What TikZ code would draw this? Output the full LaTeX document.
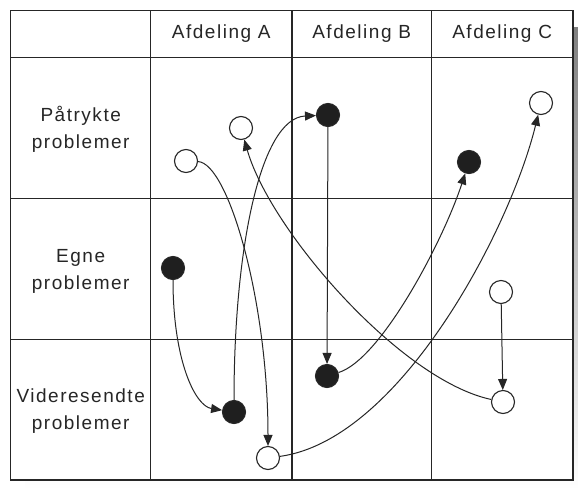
\documentclass[tikz,border=0pt]{standalone}
\usepackage{fontspec}
\newfontfamily\lblfont[LetterSpace=8]{Liberation Sans}
\usetikzlibrary{arrows.meta}
\definecolor{ink}{HTML}{262626}
\definecolor{shade}{HTML}{A4A4AC}
\tikzset{
  grid/.style={draw=ink, line width=1.2pt},
  lbl/.style={text=ink, align=center, inner sep=0pt, font={\lblfont\fontsize{19}{27}\selectfont}},
  opencirc/.style={circle, draw=ink, fill=white, line width=1.1pt, minimum size=23pt, inner sep=0pt},
  fullcirc/.style={circle, draw=ink, fill=black!88, line width=1.1pt, minimum size=23pt, inner sep=0pt},
  arr/.style={draw=ink, line width=1pt, -{Triangle[length=11pt,width=9pt]}}
}
\begin{document}
\begin{tikzpicture}[x=1pt,y=-1pt]
\path[use as bounding box] (0,0) rectangle (578,490);
% shadow and table
\fill[shade] (25,27) rectangle (578,489.5);
\fill[white] (10.7,10.7) rectangle (573,480);
\draw[grid] (10.7,10.7) rectangle (573,480);
\draw[grid] (150.7,10.7) -- (150.7,480);
\draw[grid] (292,10.7) -- (292,480);
\draw[grid] (431.5,10.7) -- (431.5,480);
\draw[grid] (10.7,57.5) -- (573,57.5);
\draw[grid] (10.7,198.5) -- (573,198.5);
\draw[grid] (10.7,339.5) -- (573,339.5);
% header texts
\node[lbl] (hA) at (221.3,34) {Afdeling A};
\node[lbl] (hB) at (361.7,34) {Afdeling B};
\node[lbl] (hC) at (502.2,34) {Afdeling C};
\node[lbl] (r1) at (80.7,129) {Påtrykte\\problemer};
\node[lbl] (r2) at (80.7,271) {Egne\\problemer};
\node[lbl] (r3) at (80.7,411) {Videresendte\\problemer};
% circles
\node[opencirc] (oA1) at (241,128) {};
\node[opencirc] (oA2) at (186,161) {};
\node[fullcirc] (bB1) at (328,115) {};
\node[opencirc] (oC1) at (541,103) {};
\node[fullcirc] (bC1) at (469,162) {};
\node[fullcirc] (bA2) at (173,268) {};
\node[opencirc] (oC2) at (501,292) {};
\node[fullcirc] (bA3) at (234,412) {};
\node[opencirc] (oA3) at (268,458) {};
\node[fullcirc] (bB3) at (327,376) {};
\node[opencirc] (oC3) at (503,402) {};
% connectors
\draw[arr] (oA2) .. controls (228,163) and (268,300) .. (oA3);
\draw[arr] (bA3) .. controls (234,250) and (260,118) .. (bB1);
\draw[arr] (bA2) .. controls (173,360) and (195,406) .. (bA3);
\draw[arr] (bB1) -- (bB3);
\draw[arr] (bB3) .. controls (380,360) and (442,244) .. (bC1);
\draw[arr] (oA3) .. controls (400,440) and (510,230) .. (oC1);
\draw[arr] (oC3) .. controls (400,380) and (270,230) .. (oA1);
\draw[arr] (oC2) -- (oC3);
\end{tikzpicture}
\end{document}
